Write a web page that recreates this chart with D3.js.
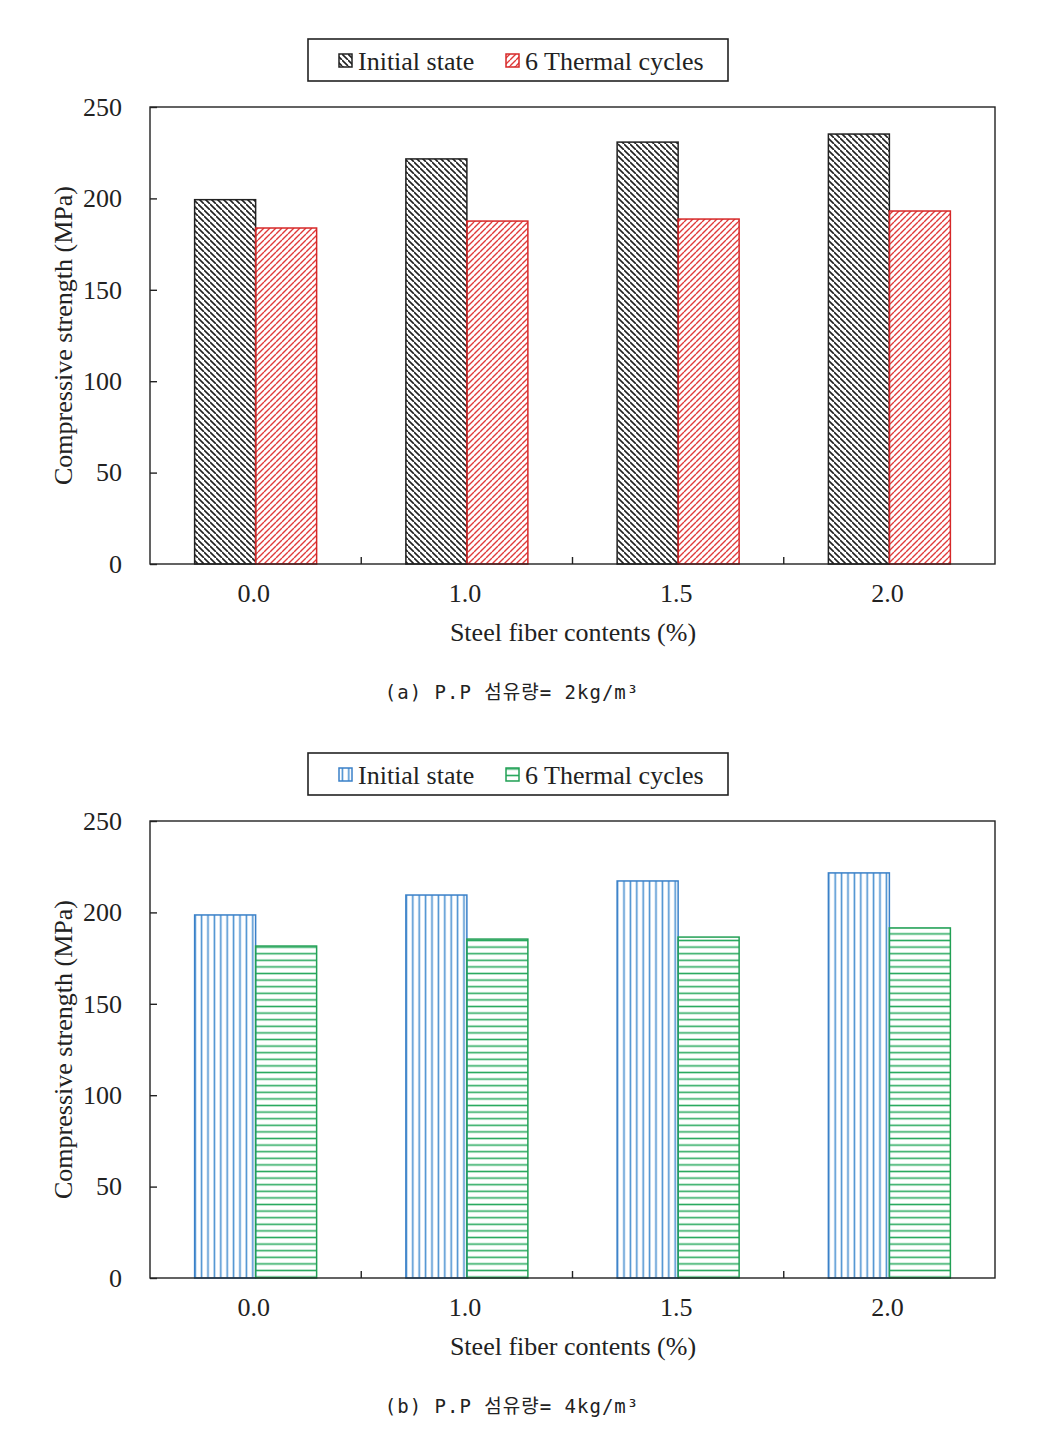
<!DOCTYPE html>
<html><head><meta charset="utf-8">
<script src="https://cdn.jsdelivr.net/npm/d3@7"></script>
<style>body{margin:0;background:#fff}svg{display:block}</style>
</head><body>
<svg id="c" width="1049" height="1439"></svg>
<script>
const categories = ["0.0","1.0","1.5","2.0"];
const seriesNames = ["Initial state","6 Thermal cycles"];
const initialA = [199.3, 221.6, 230.8, 235.2];
const thermalA = [183.8, 187.6, 188.7, 193.1];
const initialB = [198.6, 209.5, 217.2, 221.6];
const thermalB = [181.6, 185.4, 186.5, 191.5];
const yTicks = [0,50,100,150,200,250];
const captions = ["(a) P.P 섬유량= 2kg/m³","(b) P.P 섬유량= 4kg/m³"];

const SERIF = "'Liberation Serif','Times New Roman',serif";
const svg = d3.select("#c");
const defs = svg.append("defs");
function pat(id, color, kind, sp){
  const p = defs.append("pattern").attr("id",id).attr("patternUnits","userSpaceOnUse")
    .attr("width",sp).attr("height",sp);
  if(kind==="back"){
    p.append("path").attr("d",`M0,0 L${sp},${sp} M${-sp},0 L0,${sp} M${sp},${-sp} L${2*sp},${sp}`)
      .attr("stroke",color).attr("stroke-width",1.6);
  } else if(kind==="fwd"){
    p.append("path").attr("d",`M0,${sp} L${sp},0 M${-sp},${sp} L0,0 M0,${2*sp} L${sp},${sp}`)
      .attr("stroke",color).attr("stroke-width",1.4);
  } else if(kind==="vert"){
    p.append("line").attr("x1",sp/2).attr("x2",sp/2).attr("y1",0).attr("y2",sp).attr("stroke",color).attr("stroke-width",1.6);
  } else {
    p.append("line").attr("y1",sp/2).attr("y2",sp/2).attr("x1",0).attr("x2",sp).attr("stroke",color).attr("stroke-width",1.6);
  }
}
pat("pk","#222","back",6);
pat("pr","#e03a3a","fwd",6);
pat("pb","#4a90d0","vert",6.4);
pat("pg","#2aaa60","horiz",6.6);

function chart(top0, vals1, vals2, f1, f2, c1, c2, cap){
  const L=150, R=995, T=top0, B=top0+457;
  const x = d3.scaleBand().domain(categories).range([L,R]);
  const x2 = d3.scaleBand().domain([0,1]).range([0,122]);
  const y = d3.scaleLinear().domain([0,250]).range([B,T]);
  const g = svg.append("g");
  const bw = x.bandwidth();
  [vals1, vals2].forEach((vals, si)=>{
    g.selectAll(null).data(vals).join("rect")
      .attr("x",(d,i)=>x(categories[i]) + (bw-122)/2 + x2(si))
      .attr("y",d=>y(d)).attr("width",x2.bandwidth()).attr("height",d=>B-y(d))
      .attr("fill",`url(#${si?f2:f1})`).attr("stroke",si?c2:c1).attr("stroke-width",1.5);
  });
  g.append("rect").attr("x",L).attr("y",T).attr("width",R-L).attr("height",B-T)
    .attr("fill","none").attr("stroke","#222").attr("stroke-width",1.4);
  const ya = g.append("g").attr("transform",`translate(${L},0)`)
    .call(d3.axisLeft(y).tickValues(yTicks).tickSize(-7).tickPadding(28).tickFormat(d3.format("d")));
  ya.select(".domain").remove();
  ya.selectAll("line").attr("stroke","#222").attr("stroke-width",1.4);
  ya.selectAll("text").attr("font-family",SERIF).attr("font-size",26).attr("fill","#222");
  const xb = d3.scaleLinear().domain([0,4]).range([L,R]);
  g.selectAll(null).data([1,2,3]).join("line")
    .attr("x1",d=>xb(d)).attr("x2",d=>xb(d)).attr("y1",B).attr("y2",B-7)
    .attr("stroke","#222").attr("stroke-width",1.4);
  const xa = g.append("g").attr("transform",`translate(0,${B})`)
    .call(d3.axisBottom(x).tickSize(0).tickPadding(20));
  xa.select(".domain").remove();
  xa.selectAll("text").attr("font-family",SERIF).attr("font-size",26).attr("fill","#222")
    .attr("dx",-2);
  g.append("text").attr("x",573).attr("y",B+77).attr("text-anchor","middle")
    .attr("font-family",SERIF).attr("font-size",26).attr("fill","#222")
    .text("Steel fiber contents (%)");
  g.append("text").attr("transform",`translate(72,${(T+B)/2}) rotate(-90)`).attr("text-anchor","middle")
    .attr("font-family",SERIF).attr("font-size",26).attr("fill","#222")
    .text("Compressive strength (MPa)");
  const lt = T-68;
  g.append("rect").attr("x",308).attr("y",lt).attr("width",420).attr("height",42)
    .attr("fill","#fff").attr("stroke","#222").attr("stroke-width",1.6);
  const items = [{x:339, f:f1, c:c1, t:seriesNames[0]},{x:506, f:f2, c:c2, t:seriesNames[1]}];
  items.forEach(it=>{
    g.append("rect").attr("x",it.x).attr("y",lt+15).attr("width",13).attr("height",13)
      .attr("fill",`url(#${it.f})`).attr("stroke",it.c).attr("stroke-width",1.5);
    g.append("text").attr("x",it.x+19).attr("y",lt+31).attr("font-family",SERIF)
      .attr("font-size",26).attr("fill","#222").text(it.t);
  });
  g.append("text").attr("x",512).attr("y",B+135).attr("text-anchor","middle")
    .attr("font-family","'DejaVu Sans Mono','Noto Sans CJK KR',monospace").attr("font-size",19)
    .attr("letter-spacing",1).attr("fill","#222")
    .text(cap);
}
chart(107, initialA, thermalA, "pk","pr","#222","#d62828", captions[0]);
chart(821, initialB, thermalB, "pb","pg","#3a80c8","#22a055", captions[1]);
</script>
</body></html>
